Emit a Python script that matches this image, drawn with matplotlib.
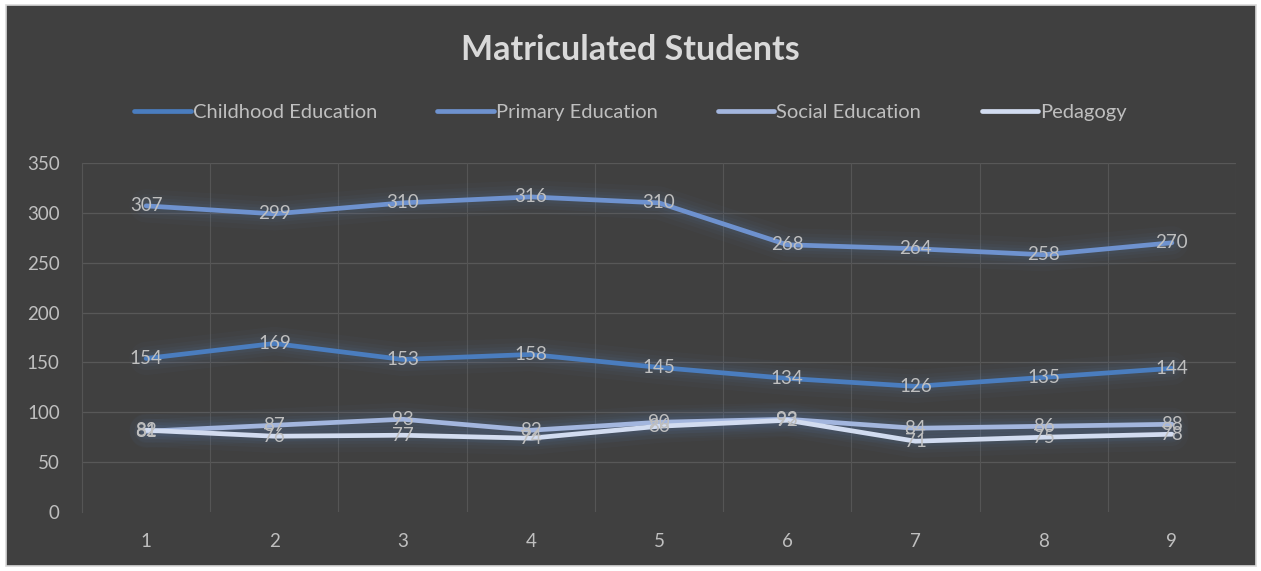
import matplotlib.pyplot as plt
import matplotlib.patches as mpatches

# Student counts per year
years = [1, 2, 3, 4, 5, 6, 7, 8, 9]
childhood = [154, 169, 153, 158, 145, 134, 126, 135, 144]
primary = [307, 299, 310, 316, 310, 268, 264, 258, 270]
social = [81, 87, 93, 82, 90, 93, 84, 86, 88]
pedagogy = [82, 76, 77, 74, 86, 92, 71, 75, 78]

series = [
    ('Childhood Education', childhood, '#4a7dbf'),
    ('Primary Education', primary, '#6e92cf'),
    ('Social Education', social, '#a3b6de'),
    ('Pedagogy', pedagogy, '#d2dcf0'),
]

plt.rcParams['font.family'] = ['Lato', 'DejaVu Sans']
bg = '#404040'
text_col = '#bfbfbf'

fig = plt.figure(figsize=(12.61, 5.71), dpi=100, facecolor='white')
# dark chart panel with a light frame
fig.patches.append(mpatches.Rectangle((6 / 1261, 5 / 571), 1250 / 1261, 561 / 571,
                                      transform=fig.transFigure, facecolor=bg,
                                      edgecolor='#d9d9d9', linewidth=1.2, zorder=-10))

ax = fig.add_axes([82 / 1261, (571 - 512) / 571, 1154 / 1261, 349 / 571])
ax.set_zorder(1)
ax.patch.set_alpha(0)

ax.set_xlim(0.5, 9.5)
ax.set_ylim(0, 350)
ax.set_yticks(range(0, 351, 50))
ax.set_xticks(years)
ax.tick_params(axis='y', colors=text_col, labelsize=13.5, length=0, pad=16)
ax.tick_params(axis='x', colors=text_col, labelsize=13.5, length=0, pad=15)
for sp in ax.spines.values():
    sp.set_visible(False)
ax.spines['left'].set_visible(True)
ax.spines['left'].set_color('#555555')

for y in range(50, 351, 50):
    ax.axhline(y, color='#585858', linewidth=0.9, zorder=1)
for x in [1.5, 2.5, 3.5, 4.5, 5.5, 6.5, 7.5, 8.5, 9.5]:
    ax.axvline(x, color='#555555', linewidth=0.8, zorder=1)

for name, vals, col in series:
    # soft glow under each line
    for w, a in [(24, 0.04), (17, 0.05), (12, 0.06), (8, 0.08)]:
        ax.plot(years, vals, color='#5a7fb5', linewidth=w, alpha=a,
                solid_capstyle='round', zorder=2)
for name, vals, col in series:
    ax.plot(years, vals, color=col, linewidth=3.4, label=name,
            solid_capstyle='round', zorder=3)
    for x, v in zip(years, vals):
        ax.text(x, v, str(v), color=text_col, fontsize=13.5,
                ha='center', va='center', zorder=4)

fig.text(0.5, 0.913, 'Matriculated Students', ha='center', va='center',
         fontsize=24.5, fontweight='bold', color='#d9d9d9')

leg = fig.legend(loc='center', bbox_to_anchor=(0.5, 0.803), ncol=4,
                 frameon=False, fontsize=14.5, handlelength=2.8,
                 handletextpad=0.1, columnspacing=3.0)
for t in leg.get_texts():
    t.set_color(text_col)

fig.savefig('out.png', dpi=100, facecolor='white')
